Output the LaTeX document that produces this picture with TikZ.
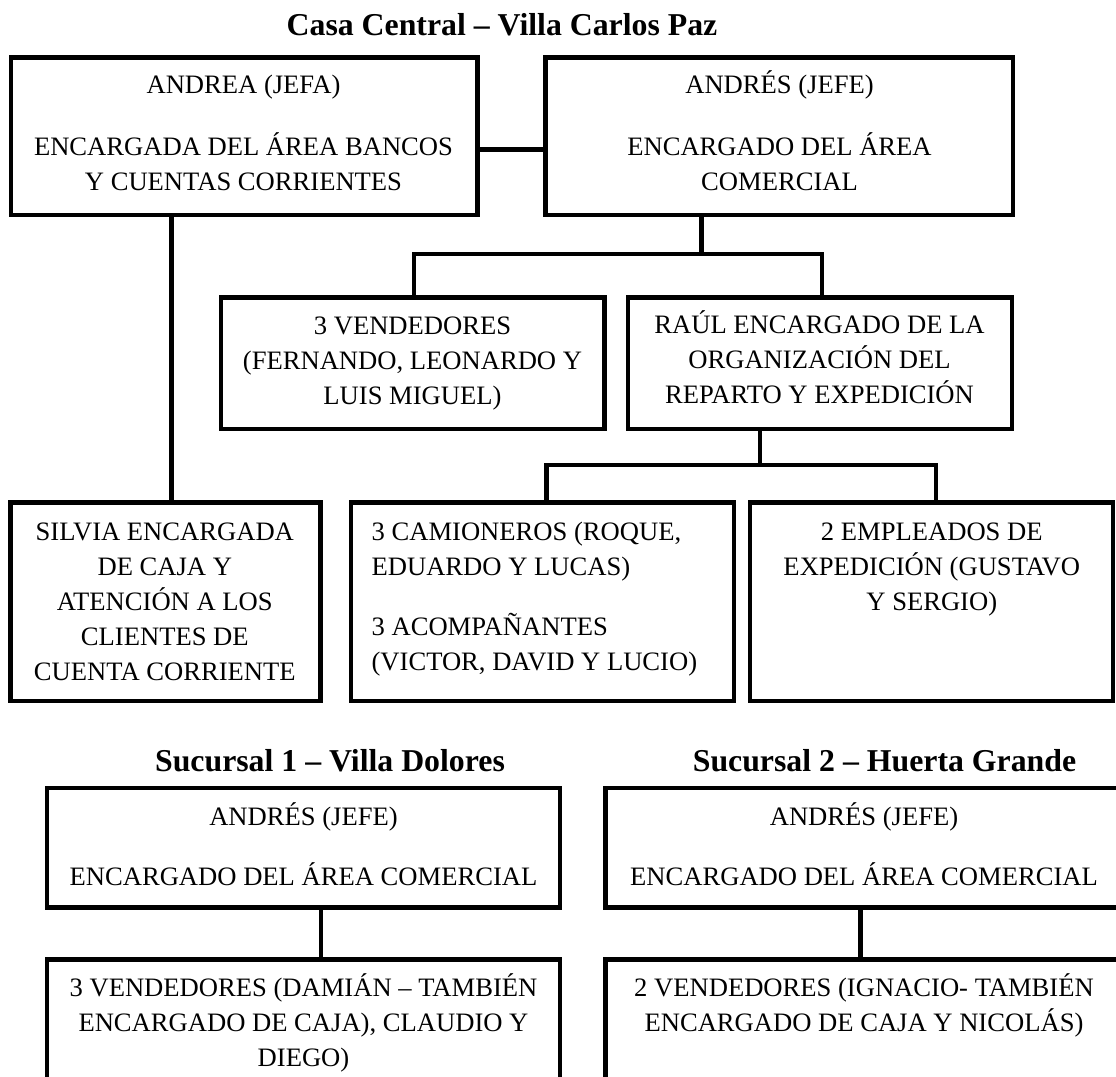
\documentclass[tikz,border=0pt]{standalone}
\usepackage{fontspec}
\setmainfont{Liberation Serif}
\renewcommand{\arraystretch}{1}
\newcommand{\ctext}[1]{\begin{tabular}[t]{@{}c@{}}#1\end{tabular}}
\newcommand{\ltext}[1]{\begin{tabular}[t]{@{}l@{}}#1\end{tabular}}
\begin{document}
\begin{tikzpicture}[x=1pt,y=-1pt,
  box/.style={draw=black, line width=4.6pt, inner sep=0pt, outer sep=0pt, fill=none},
  conn/.style={draw=black, line width=4.4pt},
  txt/.style={inner sep=0pt, font={\fontsize{26.6}{35}\selectfont}, anchor=base},
  ttl/.style={inner sep=0pt, font={\fontsize{31.8}{38}\selectfont\bfseries}, anchor=base}]
\clip (0,0) rectangle (1116,1076);
\fill[white] (0,0) rectangle (1116,1076);

% titles
\node[ttl] (t0) at (502,35) {Casa Central – Villa Carlos Paz};
\node[ttl] (t1) at (330,771.7) {Sucursal 1 – Villa Dolores};
\node[ttl] (t2) at (884.5,771.7) {Sucursal 2 – Huerta Grande};

% boxes
\node[box, minimum width=466.5pt, minimum height=157.3pt] (andrea) at (244.25,136.35) {};
\node[box, minimum width=467.5pt, minimum height=157.3pt] (andres) at (779.25,136.35) {};
\node[box, minimum width=383.5pt, minimum height=131.5pt] (vend) at (412.75,363.25) {};
\node[box, minimum width=384pt, minimum height=131.5pt] (raul) at (820,363.25) {};
\node[box, minimum width=310pt, minimum height=198.5pt] (silvia) at (165.5,601.75) {};
\node[box, minimum width=383pt, minimum height=198.5pt] (cam) at (542.5,601.75) {};
\node[box, minimum width=363pt, minimum height=198.5pt] (emp) at (931.5,601.75) {};
\node[box, minimum width=513pt, minimum height=119.5pt] (sajefe) at (303.5,847.75) {};
\node[box, minimum width=513pt, minimum height=180.5pt] (savend) at (303.5,1049.75) {};
\node[box, minimum width=517pt, minimum height=119.5pt] (sbjefe) at (864,847.75) {};
\node[box, minimum width=517pt, minimum height=180.5pt] (sbvend) at (864,1049.75) {};

% texts
\node[txt] (andreat) at (243.5,93.3) {\ctext{ANDREA (JEFA)\\[26.7pt] ENCARGADA DEL ÁREA BANCOS\\ Y CUENTAS CORRIENTES}};
\node[txt] (andrest) at (779.5,93.3) {\ctext{ANDRÉS (JEFE)\\[26.7pt] ENCARGADO DEL ÁREA\\ COMERCIAL}};
\node[txt] (vendt) at (412.5,334) {\ctext{3 VENDEDORES\\ (FERNANDO, LEONARDO Y\\ LUIS MIGUEL)}};
\node[txt] (rault) at (819.5,333.3) {\ctext{RAÚL ENCARGADO DE LA\\ ORGANIZACIÓN DEL\\ REPARTO Y EXPEDICIÓN}};
\node[txt] (silviat) at (164.8,540) {\ctext{SILVIA ENCARGADA\\ DE CAJA Y\\ ATENCIÓN A LOS\\ CLIENTES DE\\ CUENTA CORRIENTE}};
\node[txt, anchor=base west] (camt) at (371.4,540) {\ltext{3 CAMIONEROS (ROQUE,\\ EDUARDO Y LUCAS)\\[25pt] 3 ACOMPAÑANTES\\ (VICTOR, DAVID Y LUCIO)}};
\node[txt] (empt) at (931.8,540) {\ctext{2 EMPLEADOS DE\\ EXPEDICIÓN (GUSTAVO\\ Y SERGIO)}};
\node[txt] (sajefet) at (303.5,825) {\ctext{ANDRÉS (JEFE)\\[25pt] ENCARGADO DEL ÁREA COMERCIAL}};
\node[txt] (savendt) at (303.5,996.7) {\ctext{3 VENDEDORES (DAMIÁN – TAMBIÉN\\ ENCARGADO DE CAJA), CLAUDIO Y\\ DIEGO)}};
\node[txt] (sbjefet) at (864,825) {\ctext{ANDRÉS (JEFE)\\[25pt] ENCARGADO DEL ÁREA COMERCIAL}};
\node[txt] (sbvendt) at (864,996.7) {\ctext{2 VENDEDORES (IGNACIO- TAMBIÉN\\ ENCARGADO DE CAJA Y NICOLÁS)}};

% connector coordinates
\coordinate (j1) at (701.6,254);
\coordinate (v1) at (414,254);
\coordinate (r1) at (822,254);
\coordinate (s1) at (171.4,300);
\coordinate (j2) at (759.7,465);
\coordinate (c1) at (546.4,465);
\coordinate (e1) at (936,465);
\coordinate (b1) at (320.7,930);
\coordinate (b2) at (860.4,930);

% connectors
\draw[conn] ([yshift=-13pt]andrea.east) -- ([yshift=-13pt]andres.west);
\draw[conn] (andres.south -| j1) -- (j1);
\draw[conn] (vend.north -| v1) -- (v1) -- (r1) -- (raul.north -| r1);
\draw[conn] (andrea.south -| s1) -- (silvia.north -| s1);
\draw[conn] (raul.south -| j2) -- (j2);
\draw[conn] (cam.north -| c1) -- (c1) -- (e1) -- (emp.north -| e1);
\draw[conn] (sajefe.south -| b1) -- (savend.north -| b1);
\draw[conn] (sbjefe.south -| b2) -- (sbvend.north -| b2);
\end{tikzpicture}
\end{document}
